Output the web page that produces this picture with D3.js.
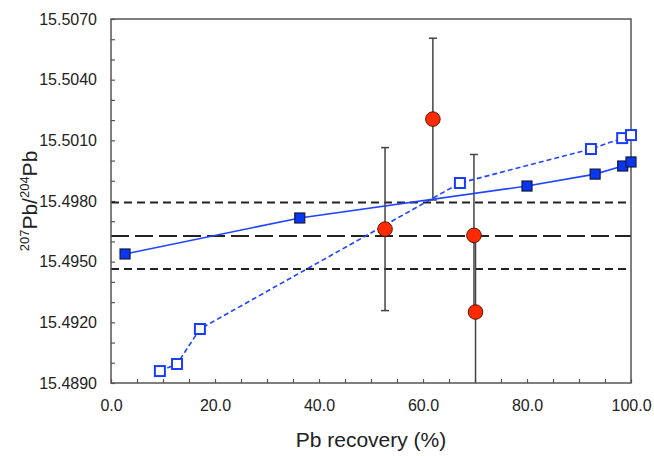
<!DOCTYPE html>
<html><head><meta charset="utf-8">
<script src="https://cdn.jsdelivr.net/npm/d3@7"></script>
<style>body{margin:0;background:#fff}svg{display:block;font-family:"Liberation Sans",Arial,sans-serif}</style>
</head><body><svg id="c" width="654" height="456"></svg>
<script>
// Data
const filledX = [2.7, 36.3, 80.0, 93.1, 98.4, 100.0];
const filledY = [15.49538, 15.49716, 15.49874, 15.49933, 15.49973, 15.49993];
const openX = [9.4, 12.7, 17.1, 67.1, 92.3, 98.3, 100.0];
const openY = [15.48959, 15.48994, 15.49167, 15.49889, 15.50057, 15.50111, 15.50126];
const redX = [52.7, 61.9, 69.8, 70.1];
const redY = [15.49661, 15.50205, 15.49630, 15.49251];
const redErr = [0.00403, 0.00400, 0.00400, 0.00400];
const refLines = [15.49792, 15.49627, 15.49464];
const refDash = ["8,5", "18,6", "8,5"];
const xTicks = [0, 20, 40, 60, 80, 100];
const yTicks = [15.4890, 15.4920, 15.4950, 15.4980, 15.5010, 15.5040, 15.5070];

const W = 654, H = 456;
const m = {l: 111, t: 19, r: 23, b: 73};
const svg = d3.select("#c");
const x = d3.scaleLinear().domain([0, 100]).range([m.l, W - m.r]);
const y = d3.scaleLinear().domain([15.4890, 15.5070]).range([H - m.b, m.t]);

const defs = svg.append("defs");
defs.append("clipPath").attr("id", "clip").append("rect")
  .attr("x", m.l).attr("y", m.t).attr("width", W - m.l - m.r).attr("height", H - m.t - m.b);

// Axes (inward ticks)
const xAxis = d3.axisBottom(x).tickValues(d3.range(0, 100.001, 5)).tickSize(-4).tickPadding(14)
  .tickFormat(d => xTicks.includes(d) ? d3.format(".1f")(d) : "");
const yAxis = d3.axisLeft(y).tickValues(d3.range(0, 19).map(i => 15.4890 + i * 0.001)).tickSize(-4).tickPadding(14)
  .tickFormat(d => yTicks.some(t => Math.abs(t - d) < 1e-7) ? d3.format(".4f")(d) : "");
const gx = svg.append("g").attr("transform", `translate(0,${H - m.b})`).call(xAxis);
const gy = svg.append("g").attr("transform", `translate(${m.l},0)`).call(yAxis);
[gx, gy].forEach(g => {
  g.select(".domain").remove();
  g.selectAll(".tick line").attr("stroke", "#555").attr("stroke-width", 1.2);
  g.selectAll(".tick text").attr("font-size", 16).attr("fill", "#222").attr("font-family", "Liberation Sans, Arial, sans-serif");
});
gx.selectAll(".tick text").attr("dy", "0.9em");

// Reference lines
const plot = svg.append("g").attr("clip-path", "url(#clip)");
refLines.forEach((v, i) => {
  plot.append("line").attr("x1", m.l).attr("x2", W - m.r).attr("y1", y(v)).attr("y2", y(v))
    .attr("stroke", "#222").attr("stroke-width", 2).attr("stroke-dasharray", refDash[i]);
});

// Error bars
redX.forEach((xv, i) => {
  const g = plot.append("g").attr("stroke", "#444").attr("stroke-width", 1.5);
  const top = y(redY[i] + redErr[i]), bot = y(redY[i] - redErr[i]);
  g.append("line").attr("x1", x(xv)).attr("x2", x(xv)).attr("y1", top).attr("y2", bot);
  g.append("line").attr("x1", x(xv) - 4).attr("x2", x(xv) + 4).attr("y1", top).attr("y2", top);
  g.append("line").attr("x1", x(xv) - 4).attr("x2", x(xv) + 4).attr("y1", bot).attr("y2", bot);
});

// Lines
const line = d3.line().x(d => x(d[0])).y(d => y(d[1]));
const filled = filledX.map((v, i) => [v, filledY[i]]);
const open = openX.map((v, i) => [v, openY[i]]);
svg.append("path").datum(filled).attr("d", line).attr("fill", "none").attr("stroke", "#1f45ff").attr("stroke-width", 1.6);
svg.append("path").datum(open).attr("d", line).attr("fill", "none").attr("stroke", "#1f45ff").attr("stroke-width", 1.6).attr("stroke-dasharray", "5,3");

// Frame
svg.append("rect").attr("x", m.l).attr("y", m.t).attr("width", W - m.l - m.r).attr("height", H - m.t - m.b)
  .attr("fill", "none").attr("stroke", "#555").attr("stroke-width", 1.5);

// Markers
const s = 10;
svg.selectAll(".fs").data(filled).join("rect").attr("class", "fs")
  .attr("x", d => x(d[0]) - s / 2).attr("y", d => y(d[1]) - s / 2).attr("width", s).attr("height", s)
  .attr("fill", "#0a36f0").attr("stroke", "#111a40").attr("stroke-width", 1.2);
svg.selectAll(".os").data(open).join("rect").attr("class", "os")
  .attr("x", d => x(d[0]) - s / 2).attr("y", d => y(d[1]) - s / 2).attr("width", s).attr("height", s)
  .attr("fill", "#fff").attr("stroke", "#1a3cff").attr("stroke-width", 2);
svg.selectAll(".rc").data(redX.map((v, i) => [v, redY[i]])).join("circle").attr("class", "rc")
  .attr("cx", d => x(d[0])).attr("cy", d => y(d[1])).attr("r", 7.3)
  .attr("fill", "#ff2a00").attr("stroke", "#5a1500").attr("stroke-width", 1);

// Titles
svg.append("text").attr("x", (m.l + W - m.r) / 2).attr("y", 447).attr("text-anchor", "middle")
  .attr("font-size", 21).attr("fill", "#222").text("Pb recovery (%)");
const yt = svg.append("text").attr("transform", `translate(37,${(m.t + H - m.b) / 2}) rotate(-90)`)
  .attr("text-anchor", "middle").attr("font-size", 21).attr("fill", "#222");
yt.append("tspan").attr("font-size", 13).attr("dy", -8).text("207");
yt.append("tspan").attr("dy", 8).text("Pb/");
yt.append("tspan").attr("font-size", 13).attr("dy", -8).text("204");
yt.append("tspan").attr("dy", 8).text("Pb");
</script></body></html>
